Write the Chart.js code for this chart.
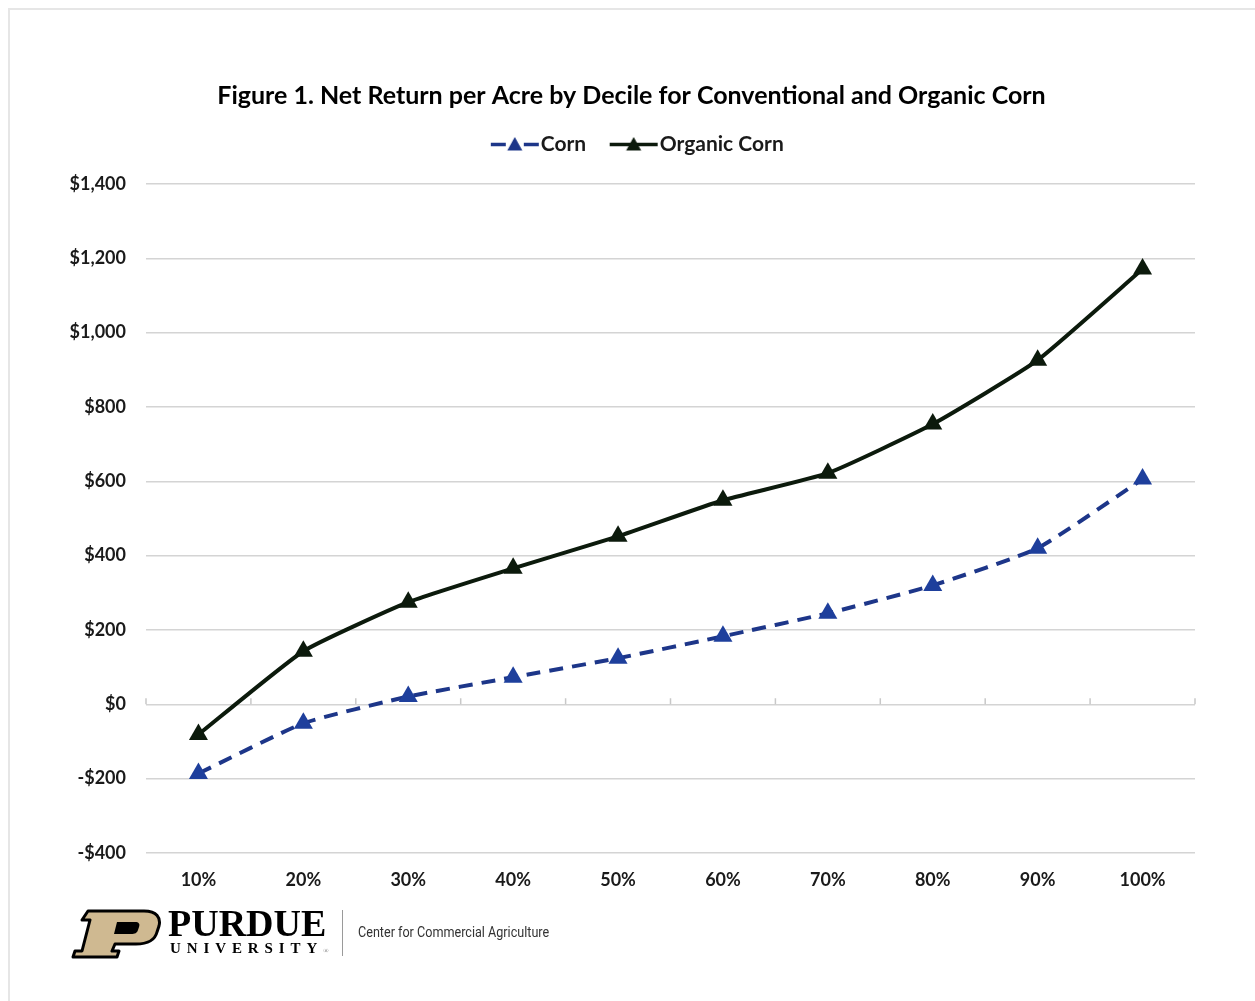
<!DOCTYPE html>
<html>
<head>
<meta charset="utf-8">
<script src="https://cdn.jsdelivr.net/npm/chart.js@4.4.0/dist/chart.umd.min.js"></script>
<style>
  html, body { margin: 0; padding: 0; background: #ffffff; }
  #wrap { position: relative; width: 1255px; height: 1001px; overflow: hidden; background: #fff; }
  #frame { position: absolute; left: 8px; top: 8px; width: 1300px; height: 1100px; border-left: 2px solid #e6e6e6; border-top: 2px solid #e6e6e6; box-sizing: border-box; }
  canvas { position: absolute; left: 0; top: 0; }
  #logo { position: absolute; left: 70px; top: 906px; height: 56px; width: 500px; }
  #plogo { position: absolute; left: 0; top: 3px; }
  #purdue { position: absolute; left: 98px; top: -2px; font-family: "Liberation Serif", "DejaVu Serif", serif; font-weight: 700; font-size: 38px; color: #000; line-height: 1; }
  #univ { position: absolute; left: 100px; top: 35px; font-family: "Liberation Serif", "DejaVu Serif", serif; font-weight: 700; font-size: 15px; letter-spacing: 5.9px; color: #000; line-height: 1; white-space: nowrap; }
  #vline { position: absolute; left: 272px; top: 4px; width: 1px; height: 46px; background: #9a9a9a; }
  #cca { position: absolute; left: 288px; top: 19px; font-family: "Roboto", "Liberation Sans", sans-serif; font-size: 14px; color: #333; line-height: 1; white-space: nowrap; transform: scaleX(0.9); transform-origin: 0 0; }
</style>
</head>
<body>
<div id="wrap">
  <div id="frame"></div>
  <canvas id="c" width="1255" height="1001"></canvas>
  <div id="logo">
    <svg id="plogo" width="92" height="50" viewBox="0 0 92 50">
      <path d="M18 2 L74 2 C87 2 91 9 89 17 L87 23 C85 31 78 35 66 35 L45 35 L42 42 L49 42 L47 48 L3 48 L5 42 L12 42 L20 11 L12 11 Z" fill="#CFB991" stroke="#000" stroke-width="3" stroke-linejoin="round"/>
      <path d="M47 13 L65 13 C69 13 70 15 69 18 L68 21 C67 24 65 25 61 25 L44 25 Z" fill="#000"/>
    </svg>
    <div id="purdue">PURDUE</div>
    <div id="univ">UNIVERSITY<span style="font-size:7px;letter-spacing:0;color:#777;font-weight:400">®</span></div>
    <div id="vline"></div>
    <div id="cca">Center for Commercial Agriculture</div>
  </div>
</div>
<script>
const titleText = "Figure 1. Net Return per Acre by Decile for Conventional and Organic Corn";
const deciles = ["10%", "20%", "30%", "40%", "50%", "60%", "70%", "80%", "90%", "100%"];
const cornValues = [-186, -51, 21, 73, 124, 183, 245, 320, 420, 606];
const organicValues = [-81, 143, 275, 366, 452, 549, 622, 754, 926, 1171];
const seriesNames = ["Corn", "Organic Corn"];
const yMin = -400, yMax = 1400, yStep = 200;

const cornColor = "#1D3689";
const cornMarker = "#1E3F9C";
const orgColor = "#0C1A0C";
const FONT = "Lato, 'Open Sans', Calibri, sans-serif";

function legendIcon(color, dashed) {
  const c = document.createElement("canvas");
  c.width = 50; c.height = 18;
  const g = c.getContext("2d");
  g.strokeStyle = color; g.lineWidth = 3.5;
  g.beginPath();
  if (dashed) {
    g.moveTo(1, 9.5); g.lineTo(16, 9.5);
    g.moveTo(34, 9.5); g.lineTo(49, 9.5);
  } else {
    g.moveTo(1, 9.5); g.lineTo(49, 9.5);
  }
  g.stroke();
  g.fillStyle = color;
  g.beginPath(); g.moveTo(25, 2); g.lineTo(32.5, 15.5); g.lineTo(17.5, 15.5); g.closePath(); g.fill();
  return c;
}

const zeroTicks = {
  id: "zeroTicks",
  beforeDatasetsDraw(chart) {
    const x = chart.scales.x, y = chart.scales.y;
    const ctx = chart.ctx;
    const y0 = y.getPixelForValue(0);
    ctx.save();
    ctx.strokeStyle = "#c8c8c8"; ctx.lineWidth = 1.5;
    ctx.beginPath();
    for (let i = 0; i <= deciles.length; i++) {
      const px = x.getPixelForValue(i - 0.5);
      ctx.moveTo(px, y0); ctx.lineTo(px, y0 - 6);
    }
    ctx.stroke();
    ctx.restore();
  }
};

const legendSpace = {
  id: "legendSpace",
  beforeInit(chart) {
    const lg = chart.legend;
    const origFit = lg.fit;
    lg.fit = function () { origFit.call(this); this.height += 19.5; };
    const origDraw = lg.draw;
    lg.draw = function () {
      const ctx = this.ctx;
      ctx.save(); ctx.translate(10, 0);
      origDraw.apply(this, arguments);
      ctx.restore();
    };
  }
};

new Chart(document.getElementById("c"), {
  type: "line",
  data: {
    labels: deciles,
    datasets: [
      { label: seriesNames[0], data: cornValues, borderColor: cornColor, backgroundColor: cornMarker,
        borderWidth: 4, borderDash: [14, 9], pointStyle: "triangle", pointRadius: 11, pointHoverRadius: 11,
        pointBackgroundColor: cornMarker, pointBorderColor: cornMarker, pointBorderWidth: 0, tension: 0.15, fill: false },
      { label: seriesNames[1], data: organicValues, borderColor: orgColor, backgroundColor: orgColor,
        borderWidth: 4, pointStyle: "triangle", pointRadius: 11, pointHoverRadius: 11,
        pointBackgroundColor: orgColor, pointBorderColor: orgColor, pointBorderWidth: 0, tension: 0.15, fill: false }
    ]
  },
  options: {
    responsive: false,
    animation: false,
    devicePixelRatio: 1,
    layout: { padding: { top: 83.5, left: 68, right: 60, bottom: 108 } },
    plugins: {
      title: { display: true, text: titleText, color: "#000", font: { family: FONT, size: 25, weight: "bold", lineHeight: 1 }, padding: { top: 0, bottom: -7 } },
      legend: {
        display: true,
        labels: {
          color: "#1a1a1a", font: { family: FONT, size: 21, weight: "bold" },
          usePointStyle: true, pointStyleWidth: 31, padding: 32,
          generateLabels(chart) {
            return chart.data.datasets.map((ds, i) => ({
              text: ds.label, datasetIndex: i, fontColor: "#1a1a1a",
              pointStyle: legendIcon(i === 0 ? cornColor : orgColor, i === 0),
              hidden: false, lineWidth: 0, strokeStyle: "transparent", fillStyle: "transparent"
            }));
          }
        }
      },
      tooltip: { enabled: false }
    },
    scales: {
      x: {
        type: "category", offset: true,
        grid: { display: false, drawTicks: false },
        border: { display: false },
        ticks: { color: "#1a1a1a", font: { family: FONT, size: 18, weight: "bold" }, padding: 16 },
        afterFit(s) { s.height = 40; }
      },
      y: {
        min: yMin, max: yMax,
        grid: { color: "#d4d4d4", lineWidth: 1.5, drawTicks: false },
        border: { display: false },
        ticks: { stepSize: yStep, color: "#1a1a1a", padding: 20, font: { family: FONT, size: 18, weight: "bold" },
          callback(v) { return (v < 0 ? "-$" : "$") + Math.abs(v).toLocaleString("en-US"); } },
        afterFit(s) { s.width = 78; }
      }
    }
  },
  plugins: [zeroTicks, legendSpace]
});
</script>
</body>
</html>
